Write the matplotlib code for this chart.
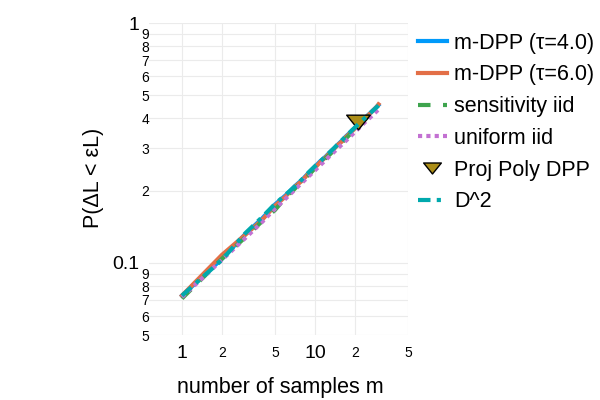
import matplotlib
matplotlib.use("Agg")
import matplotlib.pyplot as plt
from matplotlib.ticker import FixedLocator, FixedFormatter
from matplotlib.path import Path

plt.rcParams['font.family'] = ['Liberation Sans', 'DejaVu Sans']

# number of samples
m = list(range(1, 31))

dpp_tau4 = [0.073, 0.104, 0.132, 0.153, 0.175, 0.191, 0.208, 0.222, 0.238, 0.252,
            0.266, 0.277, 0.290, 0.301, 0.313, 0.324, 0.336, 0.346, 0.357, 0.366,
            0.376, 0.385, 0.395, 0.404, 0.413, 0.421, 0.430, 0.438, 0.447, 0.455]
dpp_tau6 = [0.073, 0.108, 0.131, 0.151, 0.173, 0.189, 0.207, 0.220, 0.237, 0.249,
            0.264, 0.275, 0.289, 0.300, 0.312, 0.321, 0.334, 0.344, 0.354, 0.364,
            0.374, 0.383, 0.393, 0.402, 0.411, 0.420, 0.429, 0.438, 0.446, 0.458]
sens_iid = [0.071, 0.104, 0.128, 0.149, 0.166, 0.187, 0.203, 0.219, 0.233, 0.248,
            0.260, 0.273, 0.284, 0.296, 0.307, 0.318, 0.329, 0.340, 0.350, 0.360,
            0.370, 0.379, 0.389, 0.398, 0.407, 0.415, 0.424, 0.432, 0.441, 0.449]
unif_iid = [0.072, 0.103, 0.127, 0.148, 0.168, 0.185, 0.201, 0.216, 0.230, 0.243,
            0.256, 0.268, 0.280, 0.291, 0.302, 0.312, 0.322, 0.332, 0.342, 0.352,
            0.361, 0.370, 0.379, 0.388, 0.396, 0.404, 0.412, 0.420, 0.428, 0.436]
d2 = [0.073, 0.103, 0.133, 0.155, 0.176, 0.192, 0.207, 0.223, 0.239, 0.253,
      0.265, 0.278, 0.290, 0.302, 0.314, 0.325, 0.336, 0.347, 0.357, 0.367,
      0.377, 0.386, 0.395, 0.404, 0.412, 0.421, 0.429, 0.437, 0.445, 0.453]
poly_m = [21]
poly_p = [0.388]

fig = plt.figure(figsize=(6, 4), dpi=100)
ax = fig.add_axes([149/600, 1-335/400, (408-149)/600, (335-23)/400])

lw = 3
ax.plot(m, dpp_tau4, color='#009AFA', lw=lw, label='m-DPP (τ=4.0)')
ax.plot(m, dpp_tau6, color='#E36F47', lw=lw, label='m-DPP (τ=6.0)')
ax.plot(m, sens_iid, color='#3EA44E', lw=lw, ls=(0, (3, 3)), label='sensitivity iid')
ax.plot(m, unif_iid, color='#C371D2', lw=lw, ls=(0, (1, 1)), label='uniform iid')
tri = Path([(-1, 0.62), (1, 0.62), (0, -0.62), (-1, 0.62)],
           [Path.MOVETO, Path.LINETO, Path.LINETO, Path.CLOSEPOLY])
ax.plot(poly_m, poly_p, ls='none', marker=tri, markersize=17,
        markerfacecolor='#AC8E18', markeredgecolor='black', markeredgewidth=1,
        label='Proj Poly DPP')
ax.plot(m, d2, color='#00A9AD', lw=lw, ls=(0, (3, 1.5, 1, 1.5)), label='D^2')

ax.set_xscale('log')
ax.set_yscale('log')
ax.set_xlim(0.565, 50)
ax.set_ylim(0.05, 1)

ax.xaxis.set_major_locator(FixedLocator([1, 10]))
ax.xaxis.set_major_formatter(FixedFormatter(['1', '10']))
ax.xaxis.set_minor_locator(FixedLocator([2, 5, 20, 50]))
ax.xaxis.set_minor_formatter(FixedFormatter(['2', '5', '2', '5']))

ymin = [0.05, 0.06, 0.07, 0.08, 0.09, 0.2, 0.3, 0.4, 0.5, 0.6, 0.7, 0.8, 0.9]
ax.yaxis.set_major_locator(FixedLocator([0.1, 1]))
ax.yaxis.set_major_formatter(FixedFormatter(['0.1', '1']))
ax.yaxis.set_minor_locator(FixedLocator(ymin))
ax.yaxis.set_minor_formatter(FixedFormatter(['5', '6', '7', '8', '9', '2', '3', '4', '5', '6', '7', '8', '9']))

ax.tick_params(which='both', length=0, colors='black')
ax.tick_params(axis='x', which='major', labelsize=14, pad=7)
ax.tick_params(axis='x', which='minor', labelsize=10, pad=8)
ax.tick_params(axis='y', which='major', labelsize=14, pad=7)
ax.tick_params(axis='y', which='minor', labelsize=10, pad=0)
ax.grid(True, which='both', color='#ebebeb', lw=0.8)
ax.set_axisbelow(True)
for s in ax.spines.values():
    s.set_visible(False)

fig.text(280/600, 1-387/400, 'number of samples m', ha='center', va='center', fontsize=15.5)
fig.text(93/600, 1-178/400, 'P(ΔL < εL)', ha='center', va='center', rotation=90, fontsize=15.5)

leg = fig.legend(loc='upper left', bbox_to_anchor=(409/600, 1-24/400), frameon=False,
                 fontsize=15.5, handlelength=1.35, handletextpad=0.33, labelspacing=0.5,
                 markerscale=0.75, borderaxespad=0)

fig.savefig('out.png', dpi=100)
